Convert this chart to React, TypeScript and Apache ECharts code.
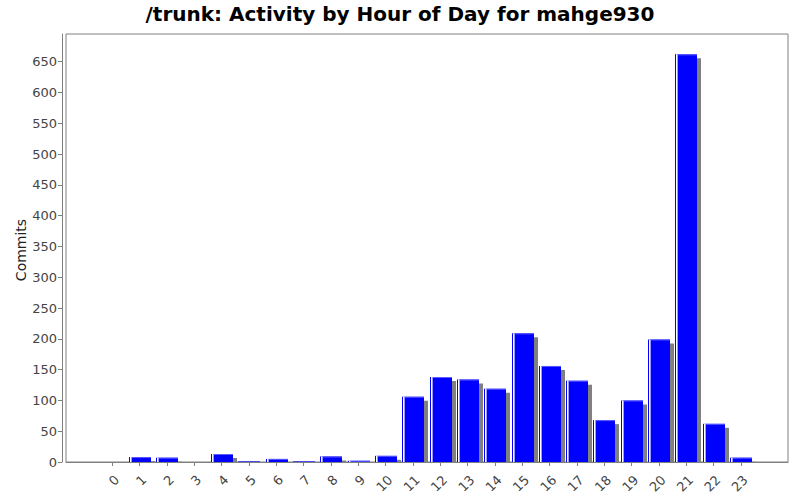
import React, { useEffect, useRef } from "react";
import * as echarts from "echarts";

const hours = ["0","1","2","3","4","5","6","7","8","9","10","11","12","13","14","15","16","17","18","19","20","21","22","23"];
const commits = [0, 8, 7, 0, 13, 1, 5, 1, 9, 2, 10, 106, 138, 134, 119, 209, 156, 132, 68, 100, 199, 662, 62, 7];
const yTicks = { min: 0, max: 695, interval: 50 };
const titleText = "/trunk: Activity by Hour of Day for mahge930";
const yName = "Commits";

export default function App() {
  const ref = useRef<HTMLDivElement>(null);
  useEffect(() => {
    if (!ref.current) return;
    const chart = echarts.init(ref.current, undefined, { renderer: "svg" });
    const gray = "#808080";
    const labelColor = "#444444";
    const font = "DejaVu Sans";
    const catW = 27.33;
    const firstCenter = 112.3;
    const g1Left = firstCenter - catW / 2;
    const barW = 21.5;
    chart.setOption({
      animation: false,
      backgroundColor: "#ffffff",
      title: {
        text: titleText,
        left: "center",
        top: -1,
        textStyle: { fontFamily: font, fontWeight: "bold", fontSize: 20, color: "#000" },
      },
      graphic: [
        {
          type: "text", x: 21, y: 250, rotation: Math.PI / 2,
          style: { text: yName, fontSize: 14, fontFamily: font, fill: "#222", align: "center", verticalAlign: "middle" },
        },
      ],
      grid: [
        { left: 66, top: 34, width: 722, height: 428, show: true, borderColor: gray, borderWidth: 1, backgroundColor: "transparent" },
        { left: g1Left, top: 34, width: catW * 24, height: 428 },
      ],
      xAxis: [
        {
          gridIndex: 0, type: "category", data: [""], offset: 4,
          axisLine: { show: true, lineStyle: { color: gray, width: 1 } },
          axisTick: { show: false }, axisLabel: { show: false }, splitLine: { show: false },
        },
        {
          gridIndex: 1, type: "category", data: hours, offset: 4,
          axisLine: { show: false },
          axisTick: { show: true, alignWithLabel: true, length: 4, lineStyle: { color: gray } },
          axisLabel: { rotate: 45, fontSize: 13, color: labelColor, fontFamily: font, margin: 7, interval: 0, verticalAlign: "top" },
          splitLine: { show: false },
        },
      ],
      yAxis: [
        {
          gridIndex: 0, type: "value", min: yTicks.min, max: yTicks.max, interval: yTicks.interval, offset: 4,
          axisLine: { show: true, lineStyle: { color: gray, width: 1 } },
          axisTick: { show: true, length: 4, lineStyle: { color: gray } },
          axisLabel: { fontSize: 13, color: labelColor, fontFamily: font, margin: 5, showMaxLabel: false },
          splitLine: { show: false },
        },
        {
          gridIndex: 1, type: "value", min: yTicks.min, max: yTicks.max, show: false,
          splitLine: { show: false },
        },
      ],
      series: [
        {
          type: "custom", xAxisIndex: 1, yAxisIndex: 1, clip: true,
          data: commits.map((v, i) => [i, v]),
          encode: { x: 0, y: 1 },
          renderItem: (params: any, api: any) => {
            const idx = api.value(0);
            const v = api.value(1);
            const base = api.coord([idx, 0]);
            const top = api.coord([idx, v]);
            const h = base[1] - top[1];
            if (h <= 0) return { type: "group", children: [] };
            const x = Math.round(top[0] - barW / 2);
            const w = Math.round(barW);
            const children: any[] = [];
            if (h > 4) {
              children.push({ type: "rect", shape: { x: x + 4, y: top[1] + 4, width: w, height: h - 4 }, style: { fill: gray } });
            }
            children.push({ type: "rect", shape: { x, y: top[1], width: w, height: h }, style: { fill: "#0000ff" } });
            if (h > 1) {
              children.push({ type: "rect", shape: { x: x + 1, y: top[1], width: 1, height: h }, style: { fill: "#ffffff" } });
              children.push({ type: "rect", shape: { x: x + 2, y: top[1], width: 1, height: h }, style: { fill: "#9a9aff" } });
              children.push({ type: "rect", shape: { x: x + 3, y: top[1], width: w - 3, height: 1 }, style: { fill: "#5c5cff" } });
            }
            return { type: "group", children };
          },
        },
      ],
    });
    return () => chart.dispose();
  }, []);
  return <div ref={ref} style={{ position: "fixed", left: 0, top: 0, width: 800, height: 500 }} />;
}
